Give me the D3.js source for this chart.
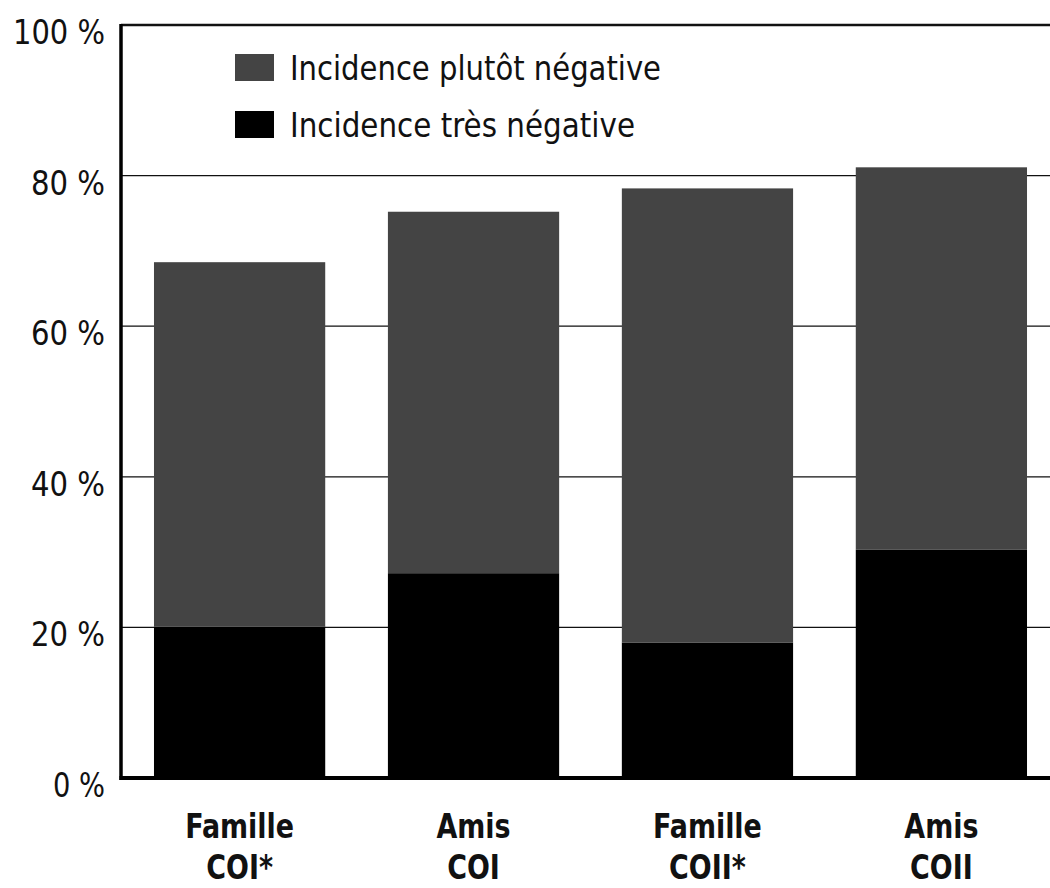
<!DOCTYPE html>
<html lang="fr">
<head>
  <meta charset="UTF-8" />
  <title>Incidence négative</title>
  <script src="https://d3js.org/d3.v7.min.js"></script>
  <style>
    body { margin: 0; background: #fff; }
    svg { display: block; }
    text { font-family: "Liberation Sans Narrow", "DejaVu Sans Condensed", "Liberation Sans", sans-serif; fill: #111; }
  </style>
</head>
<body>
  <svg id="chart" width="1050" height="888"></svg>
  <script>
    // data (%)
    const categories = [["Famille", "COI*"], ["Amis", "COI"], ["Famille", "COII*"], ["Amis", "COII"]];
    const tresNegative = [20.1, 27.2, 18.0, 30.3];
    const plutotNegative = [48.4, 48.0, 60.3, 50.8];
    const yTicks = [0, 20, 40, 60, 80, 100];
    const seriesNames = ["Incidence plutôt négative", "Incidence très négative"];
    const seriesColors = ["#444444", "#000000"];

    const svg = d3.select("#chart");
    const plotLeft = 121, plotRight = 1050, plotTop = 25, plotBottom = 778;

    const x = d3.scaleBand()
      .domain(d3.range(categories.length))
      .range([plotLeft, 1060])
      .paddingInner(0.268)
      .paddingOuter(0.141);

    const y = d3.scaleLinear().domain([0, 100]).range([plotBottom, plotTop]);

    // gridlines
    svg.append("g")
      .selectAll("line")
      .data(yTicks.filter(d => d > 0 && d < 100))
      .join("line")
      .attr("x1", plotLeft).attr("x2", plotRight)
      .attr("y1", d => y(d)).attr("y2", d => y(d))
      .attr("stroke", "#111").attr("stroke-width", 1.3);

    // stacked bars
    const rows = categories.map((c, i) => ({ i, tres: tresNegative[i], plutot: plutotNegative[i] }));
    const stack = d3.stack().keys(["tres", "plutot"])(rows);
    const colorOf = { tres: seriesColors[1], plutot: seriesColors[0] };

    svg.append("g")
      .selectAll("g")
      .data(stack)
      .join("g")
      .attr("fill", s => colorOf[s.key])
      .selectAll("rect")
      .data(s => s)
      .join("rect")
      .attr("x", d => x(d.data.i))
      .attr("width", x.bandwidth())
      .attr("y", d => y(d[1]))
      .attr("height", d => y(d[0]) - y(d[1]));

    // frame: top border, left axis, bottom axis
    svg.append("line").attr("x1", plotLeft).attr("x2", plotRight).attr("y1", plotTop).attr("y2", plotTop)
      .attr("stroke", "#111").attr("stroke-width", 2.5);
    svg.append("line").attr("x1", plotLeft).attr("x2", plotLeft).attr("y1", plotTop - 1).attr("y2", plotBottom + 2)
      .attr("stroke", "#000").attr("stroke-width", 3.5);
    svg.append("line").attr("x1", plotLeft - 1.5).attr("x2", plotRight).attr("y1", plotBottom).attr("y2", plotBottom)
      .attr("stroke", "#000").attr("stroke-width", 4);

    // y tick labels
    svg.append("g")
      .selectAll("text")
      .data(yTicks)
      .join("text")
      .attr("x", 105)
      .attr("y", d => y(d) + 19)
      .attr("text-anchor", "end")
      .attr("font-size", 33)
      .attr("textLength", d => d === 100 ? 92 : d === 0 ? 52 : 74)
      .attr("lengthAdjust", "spacingAndGlyphs")
      .text(d => `${d} %`);

    // category labels (narrow bold, squeezed horizontally)
    const lab = svg.append("g")
      .selectAll("g")
      .data(categories)
      .join("g")
      .attr("transform", (d, i) => `translate(${x(i) + x.bandwidth() / 2},0) scale(0.88,1)`)
      .append("text")
      .attr("text-anchor", "middle")
      .attr("font-size", 34)
      .attr("font-weight", "bold");
    lab.append("tspan")
      .attr("x", 0)
      .attr("y", 838)
      .text(d => d[0]);
    lab.append("tspan")
      .attr("x", 0)
      .attr("y", 879)
      .text(d => d[1]);

    // legend
    const legend = svg.append("g")
      .selectAll("g")
      .data(seriesNames)
      .join("g")
      .attr("transform", (d, i) => `translate(235,${54 + i * 57})`);
    legend.append("rect")
      .attr("width", 39).attr("height", 27)
      .attr("fill", (d, i) => seriesColors[i]);
    legend.append("text")
      .attr("x", 55)
      .attr("y", 26)
      .attr("font-size", 33)
      .attr("textLength", (d, i) => i === 0 ? 371 : 345)
      .attr("lengthAdjust", "spacingAndGlyphs")
      .text(d => d);
  </script>
</body>
</html>
